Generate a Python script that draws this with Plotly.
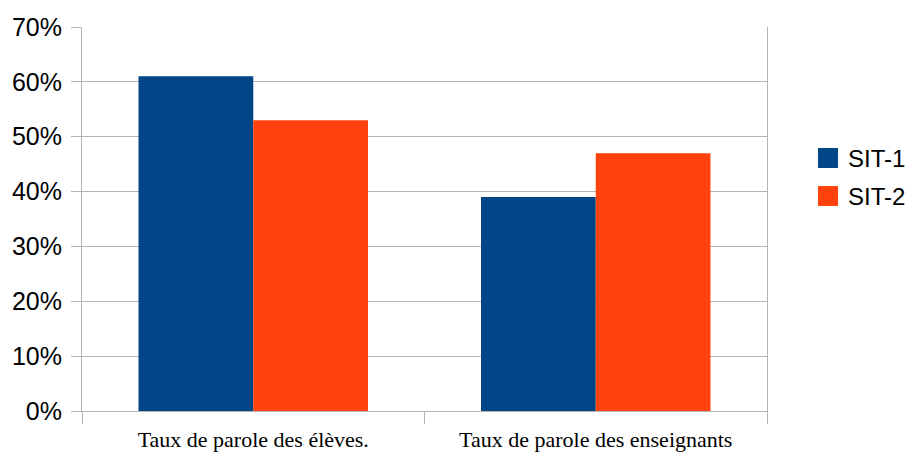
import plotly.graph_objects as go

categories = ["Taux de parole des élèves.", "Taux de parole des enseignants"]
series_names = ["SIT-1", "SIT-2"]
sit1_values = [0.61, 0.39]
sit2_values = [0.53, 0.47]
series_values = [sit1_values, sit2_values]
colors = ["#004586", "#ff420e"]
y_tick_values = [0, 0.1, 0.2, 0.3, 0.4, 0.5, 0.6, 0.7]
y_tick_labels = ["0%", "10%", "20%", "30%", "40%", "50%", "60%", "70%"]

W, H = 909, 456
ML, MR, MT, MB = 82, 142, 27, 45
PW, PH = W - ML - MR, H - MT - MB

def px_x(x):
    return (x - ML) / PW

def px_y(y):
    return (H - MB - y) / PH

fig = go.Figure()
for name, vals, col in zip(series_names, series_values, colors):
    fig.add_trace(go.Bar(x=categories, y=vals, name=name, marker_color=col,
                         marker_line_width=0, showlegend=False))

grid = "#b3b3b3"
fig.update_layout(
    width=W, height=H,
    margin=dict(l=ML, r=MR, t=MT, b=MB, pad=0, autoexpand=False),
    paper_bgcolor="white", plot_bgcolor="white",
    barmode="group", bargap=0.33, bargroupgap=0,
    font=dict(family="Liberation Sans, Arial, sans-serif", color="black"),
)
fig.update_yaxes(
    range=[0, 0.7], tickvals=y_tick_values, ticktext=y_tick_labels,
    showgrid=True, gridcolor=grid, gridwidth=1,
    ticks="outside", ticklen=10, tickcolor=grid, tickwidth=1,
    showline=True, linecolor=grid, linewidth=1, mirror=True,
    tickfont=dict(size=25, family="Liberation Sans, Arial, sans-serif", color="black"),
    ticklabelstandoff=4, zeroline=False, automargin=False,
)
fig.update_xaxes(
    type="category", tickson="boundaries",
    ticks="outside", ticklen=12, tickcolor=grid, tickwidth=1,
    showline=True, linecolor=grid, linewidth=1, showgrid=False,
    tickfont=dict(size=22, family="Liberation Serif, Times New Roman, serif", color="black"),
    ticklabelstandoff=9, automargin=False,
)

# legend
sq_tops = [148, 186]
for name, col, top in zip(series_names, colors, sq_tops):
    fig.add_shape(type="rect", xref="paper", yref="paper",
                  x0=px_x(818), x1=px_x(838), y0=px_y(top + 20), y1=px_y(top),
                  fillcolor=col, line_width=0)
    fig.add_annotation(xref="paper", yref="paper", x=px_x(846), y=px_y(top + 10),
                       xanchor="left", yanchor="middle", text=name, showarrow=False,
                       font=dict(size=24, family="Liberation Sans, Arial, sans-serif", color="black"))

fig.write_html("out.html", config={"displayModeBar": False},
               post_script="document.body.style.margin='0px';document.body.style.overflow='hidden';")
